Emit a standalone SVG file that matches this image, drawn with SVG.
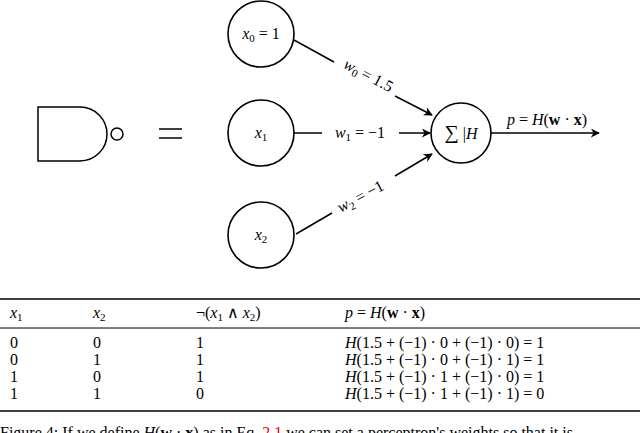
<svg xmlns="http://www.w3.org/2000/svg" width="640" height="433" viewBox="0 0 640 433">
<defs>
<style>
text{font-family:"Liberation Serif","DejaVu Serif",serif;font-size:16px;fill:#000}
.i{font-style:italic}
.n{fill:#fff;stroke:#000;stroke-width:1.6}
.c{stroke:#000;stroke-width:1.5;fill:none}
.r{stroke:#000}
</style>
<marker id="a" viewBox="0 0 10 10" refX="9" refY="5" markerWidth="9" markerHeight="9" markerUnits="userSpaceOnUse" orient="auto"><path d="M0,0 L10,5 L0,10 L3,5z" fill="#000"/></marker>
</defs>
<rect width="640" height="433" fill="#fff"/>
<g id="gate">
<path class="c" d="M38,107 V161 H80 A27,27 0 0 0 80,107 Z"/>
<circle class="c" cx="117" cy="134" r="6"/>
<line class="c" x1="159" y1="129" x2="182" y2="129"/>
<line class="c" x1="159" y1="138" x2="182" y2="138"/>
</g>
<g id="connectors">
<line class="c" x1="294" y1="40" x2="334" y2="62"/>
<line class="c" x1="395" y1="96" x2="432" y2="115" marker-end="url(#a)"/>
<line class="c" x1="294" y1="133" x2="322" y2="133"/>
<line class="c" x1="399" y1="133" x2="430" y2="133" marker-end="url(#a)"/>
<line class="c" x1="296" y1="234" x2="332" y2="213"/>
<line class="c" x1="395" y1="176" x2="432" y2="154" marker-end="url(#a)"/>
<line class="c" x1="491" y1="133" x2="599" y2="133" marker-end="url(#a)"/>
<text transform="translate(366,80) rotate(28)" text-anchor="middle"><tspan class="i">w</tspan><tspan font-size="11" dy="3">0</tspan><tspan dy="-3"> = 1.5</tspan></text>
<text x="360" y="138" text-anchor="middle"><tspan class="i">w</tspan><tspan font-size="11" dy="3">1</tspan><tspan dy="-3"> = −1</tspan></text>
<text transform="translate(363,201) rotate(-28)" text-anchor="middle"><tspan class="i">w</tspan><tspan font-size="11" dy="3">2</tspan><tspan dy="-3"> = −1</tspan></text>
<text x="547" y="125" text-anchor="middle"><tspan class="i">p</tspan> = <tspan class="i">H</tspan>(<tspan font-weight="bold">w</tspan> · <tspan font-weight="bold">x</tspan>)</text>
</g>
<g id="x0"><circle class="n" cx="261" cy="34" r="33"/><text x="261" y="39" text-anchor="middle"><tspan class="i">x</tspan><tspan font-size="11" dy="3">0</tspan><tspan dy="-3"> = 1</tspan></text></g>
<g id="x1"><circle class="n" cx="261" cy="133" r="33"/><text x="261" y="138" text-anchor="middle"><tspan class="i">x</tspan><tspan font-size="11" dy="3">1</tspan></text></g>
<g id="x2"><circle class="n" cx="261" cy="235" r="33"/><text x="261" y="240" text-anchor="middle"><tspan class="i">x</tspan><tspan font-size="11" dy="3">2</tspan></text></g>
<g id="sum"><circle class="n" cx="461" cy="133" r="30"/><text x="461" y="139" text-anchor="middle"><tspan font-size="20">∑</tspan> |<tspan class="i">H</tspan></text></g>
<g id="table">
<line class="r" x1="0" y1="299" x2="640" y2="299" stroke-width="1.6"/>
<line class="r" x1="0" y1="328" x2="640" y2="328" stroke-width="1"/>
<line class="r" x1="0" y1="411" x2="640" y2="411" stroke-width="1.6"/>
<text x="10" y="318"><tspan class="i">x</tspan><tspan font-size="11" dy="3">1</tspan></text>
<text x="93" y="318"><tspan class="i">x</tspan><tspan font-size="11" dy="3">2</tspan></text>
<text x="196" y="318">¬(<tspan class="i">x</tspan><tspan font-size="11" dy="3">1</tspan><tspan dy="-3"> ∧ </tspan><tspan class="i">x</tspan><tspan font-size="11" dy="3">2</tspan><tspan dy="-3">)</tspan></text>
<text x="345" y="318"><tspan class="i">p</tspan> = <tspan class="i">H</tspan>(<tspan font-weight="bold">w</tspan> · <tspan font-weight="bold">x</tspan>)</text>
<text x="10" y="348">0</text><text x="93" y="348">0</text><text x="196" y="348">1</text><text x="345" y="348"><tspan class="i">H</tspan>(1.5 + (−1) · 0 + (−1) · 0) = 1</text>
<text x="10" y="365">0</text><text x="93" y="365">1</text><text x="196" y="365">1</text><text x="345" y="365"><tspan class="i">H</tspan>(1.5 + (−1) · 0 + (−1) · 1) = 1</text>
<text x="10" y="382">1</text><text x="93" y="382">0</text><text x="196" y="382">1</text><text x="345" y="382"><tspan class="i">H</tspan>(1.5 + (−1) · 1 + (−1) · 0) = 1</text>
<text x="10" y="399">1</text><text x="93" y="399">1</text><text x="196" y="399">0</text><text x="345" y="399"><tspan class="i">H</tspan>(1.5 + (−1) · 1 + (−1) · 1) = 0</text>
</g>
<text x="0" y="438">Figure 4: If we define <tspan class="i">H</tspan>(<tspan font-weight="bold">w</tspan> · <tspan font-weight="bold">x</tspan>) as in Eq. <tspan fill="#e00">2.1</tspan> we can set a perceptron's weights so that it is</text>
</svg>
